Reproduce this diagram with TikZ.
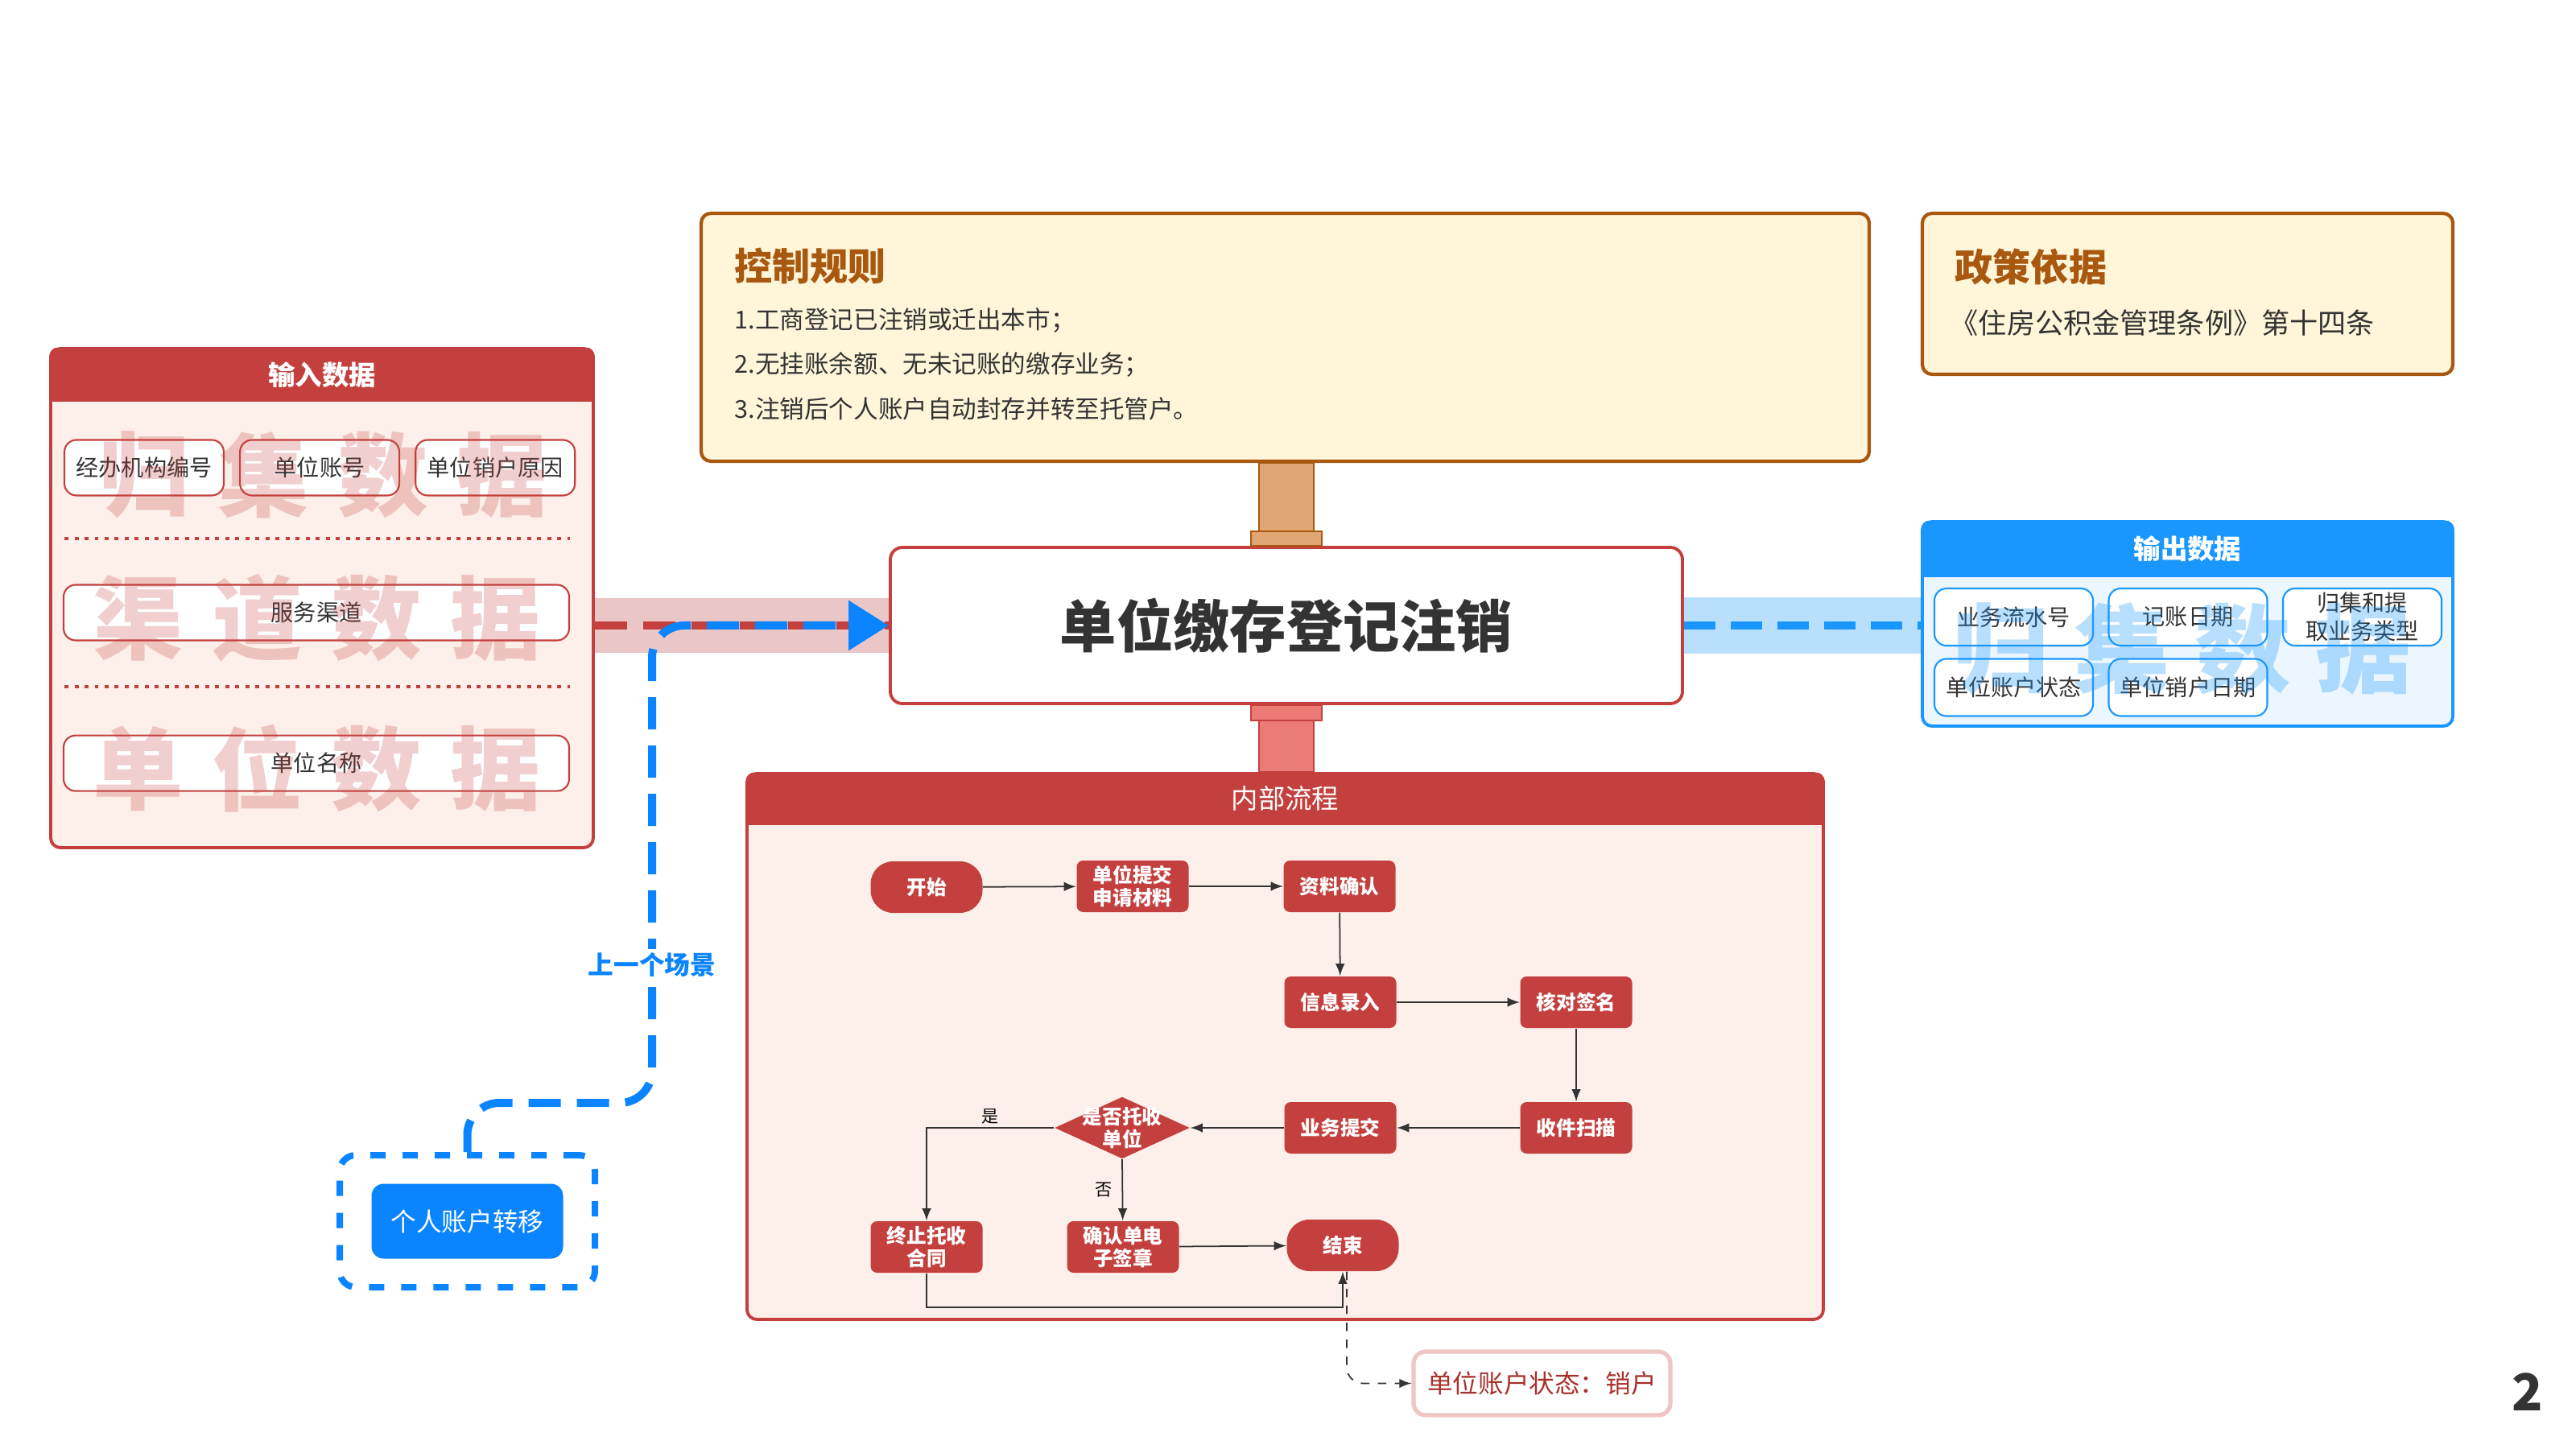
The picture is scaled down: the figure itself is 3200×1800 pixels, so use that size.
\documentclass[tikz,border=0pt]{standalone}
\usepackage{fontspec}
\setmainfont{Noto Sans CJK SC}
\usetikzlibrary{calc}
\usetikzlibrary{arrows}
\usetikzlibrary{arrows.meta}
\usetikzlibrary{positioning}
\usetikzlibrary{shapes.geometric}

\definecolor{hdred}{HTML}{C4403F}
\definecolor{bodypink}{HTML}{FDEFE9}
\definecolor{ruleedge}{HTML}{A9580F}
\definecolor{rulefill}{HTML}{FFF5D9}
\definecolor{tanstem}{HTML}{DFA674}
\definecolor{salmonstem}{HTML}{EC7A76}
\definecolor{outblue}{HTML}{1A97FF}
\definecolor{outfill}{HTML}{EBF6FF}
\definecolor{bandblue}{HTML}{B8E0FD}
\definecolor{bandred}{HTML}{EBC6C6}
\definecolor{btnblue}{HTML}{0A84FF}
\definecolor{txtgray}{HTML}{333333}
\definecolor{statered}{HTML}{A8302C}

\begin{document}
\begin{tikzpicture}[x=0.1mm, y=-0.1mm,
      panel/.style={draw=hdred, line width=1.1pt, fill=bodypink, rounded corners=1.2mm, inner sep=0pt},
      panel head/.style={fill=hdred, text=white, inner sep=0pt, font=\bfseries\fontsize{9.5}{11}\selectfont},
      item box/.style={draw=hdred, line width=0.6pt, fill=white, rounded corners=1.5mm, inner sep=0pt,
          minimum height=0.69cm, text=txtgray, align=center, font=\fontsize{8}{10}\selectfont},
      out item/.style={item box, draw=outblue, minimum width=1.97cm, minimum height=0.71cm},
      rule box/.style={draw=ruleedge, line width=1.2pt, fill=rulefill, rounded corners=1.2mm},
      rule title/.style={anchor=west, inner sep=0pt, text=ruleedge, font=\bfseries\fontsize{13.4}{16}\selectfont},
      rule text/.style={anchor=west, inner sep=0pt, text=txtgray, font=\fontsize{8.7}{10}\selectfont},
      step box/.style={fill=hdred, rounded corners=0.8mm, minimum width=1.39cm, minimum height=0.64cm,
          inner sep=0pt, text=white, align=center, font=\bfseries\fontsize{7}{8}\selectfont},
      end box/.style={step box, rounded corners=2.8mm},
      flow/.style={draw=txtgray, line width=0.5pt, -latex},
      red mark/.style={text=hdred, opacity=0.25, font=\bfseries\fontsize{32}{32}\selectfont},
      blue mark/.style={text=outblue, opacity=0.3, font=\bfseries\fontsize{34}{34}\selectfont},
      stem tan/.style={draw=ruleedge, line width=0.6pt, fill=tanstem},
      stem red/.style={draw=hdred, line width=0.6pt, fill=salmonstem},
    ]
    \useasboundingbox (0,0) rectangle (3200,1800);

    % input data
    \node[panel, minimum width=6.74cm, minimum height=6.2cm] (input) at (400,743) {};
    \begin{scope}
      \clip[rounded corners=1.2mm] (input.north west) rectangle (input.south east);
      \node[panel head, anchor=north, minimum width=6.8cm, minimum height=0.67cm] (input-head) at (input.north) {输入数据};
    \end{scope}
    \node[item box, minimum width=1.98cm] (in-1) at (179,581) {经办机构编号};
    \node[item box, minimum width=1.98cm, right=0.18cm of in-1] (in-2) {单位账号};
    \node[item box, minimum width=1.98cm, right=0.18cm of in-2] (in-3) {单位销户原因};
    \node[item box, minimum width=6.28cm] (in-4) at (393,761) {服务渠道};
    \node[item box, minimum width=6.28cm, below=1.16cm of in-4] (in-5) {单位名称};
    \draw[hdred, line width=0.9pt, dash pattern=on 0.5mm off 0.75mm] (80,669) -- (708,669);
    \draw[hdred, line width=0.9pt, dash pattern=on 0.5mm off 0.75mm] (80,853) -- (708,853);

    \foreach \ch [count=\i from 0] in {归,集,数,据}
      \node[red mark] (mark-a\i) at (180+148*\i,590) {\ch};
    \foreach \ch [count=\i from 0] in {渠,道,数,据}
      \node[red mark] (mark-b\i) at (172+148*\i,768) {\ch};
    \foreach \ch [count=\i from 0] in {单,位,数,据}
      \node[red mark] (mark-c\i) at (172+148*\i,955) {\ch};

    % main scene
    \node[draw=hdred, line width=1.1pt, fill=white, rounded corners=1.5mm, minimum width=9.84cm, minimum height=1.94cm,
          text=txtgray, font=\bfseries\fontsize{20}{24}\selectfont] (main) at (1598,777) {单位缴存登记注销};

    % control rules
    \node[rule box, minimum width=14.51cm, minimum height=3.08cm] (rules) at (1596.5,419) {};
    \node[rule title] (rules-title) at (912,330) {控制规则};
    \node[rule text] (rule-1) at (912,398) {1.工商登记已注销或迁出本市；};
    \node[rule text] (rule-2) at (912,453) {2.无挂账余额、无未记账的缴存业务；};
    \node[rule text] (rule-3) at (912,508) {3.注销后个人账户自动封存并转至托管户。};

    % policy
    \node[rule box, minimum width=6.59cm, minimum height=2.0cm] (policy) at (2717.5,365) {};
    \node[rule title] (policy-title) at (2428,331) {政策依据};
    \node[rule text, font=\fontsize{10}{12}\selectfont] (policy-text) at (2422,401) {《住房公积金管理条例》第十四条};

    % output data
    \node[panel, draw=outblue, fill=outfill, minimum width=6.59cm, minimum height=2.54cm] (output) at (2717.5,775) {};
    \begin{scope}
      \clip[rounded corners=1.2mm] (output.north west) rectangle (output.south east);
      \node[panel head, fill=outblue, anchor=north, minimum width=6.7cm, minimum height=0.7cm] (output-head) at (output.north) {输出数据};
    \end{scope}
    \node[out item] (out-1) at (2501.5,766.5) {业务流水号};
    \node[out item] (out-2) at (2718,766.5) {记账日期};
    \node[out item] (out-3) at (2934.5,766.5) {归集和提\\取业务类型};
    \node[out item] (out-4) at (2501.5,854) {单位账户状态};
    \node[out item] (out-5) at (2718,854) {单位销户日期};
    \foreach \ch [count=\i from 0] in {归,集,数,据}
      \node[blue mark] (mark-d\i) at (2486+150*\i,806) {\ch};

    % bands into and out of the scene
    \draw[bandred, line width=6.9mm] (input.east |- main.west) -- (main.west);
    \draw[hdred, line width=1mm, dash pattern=on 4mm off 2mm] (input.east |- main.west) -- (main.west);
    \draw[bandblue, line width=7mm] (main.east) -- (output.west |- main.east);
    \draw[outblue, line width=1mm, dash pattern=on 3.9mm off 1.9mm] (main.east) -- (output.west |- main.east);

    % internal flow
    \node[panel, minimum width=13.37cm, minimum height=6.78cm] (flow) at (1596.5,1300) {};
    \begin{scope}
      \clip[rounded corners=1.2mm] (flow.north west) rectangle (flow.south east);
      \node[panel head, font=\fontsize{9.5}{11}\selectfont, anchor=north, minimum width=13.5cm, minimum height=0.65cm] (flow-head) at (flow.north) {内部流程};
    \end{scope}

    % stems
    \draw[stem tan] ($(main.north |- rules.south)+(-34,0)$) rectangle ($(main.north)+(34,-18)$);
    \draw[stem tan] ($(main.north)+(-44,-18)$) rectangle ($(main.north)+(44,0)$);
    \draw[stem red] ($(main.south)+(-44,0)$) rectangle ($(main.south)+(44,19)$);
    \draw[stem red] ($(main.south)+(-34,19)$) rectangle ($(flow.north -| main.south)+(34,0)$);

    \node[end box]  (start)   at (1151,1102) {开始};
    \node[step box] (submit)  at (1407,1101) {单位提交\\申请材料};
    \node[step box] (confirm) at (1664,1101) {资料确认};
    \node[step box] (entry)   at (1665,1245) {信息录入};
    \node[step box] (sign)    at (1958,1245) {核对签名};
    \node[step box] (scan)    at (1958,1401) {收件扫描};
    \node[step box] (bizsub)  at (1665,1401) {业务提交};
    \node[diamond, fill=hdred, inner sep=0pt, minimum width=1.68cm, minimum height=0.77cm,
          label={[text=white, align=center, font=\bfseries\fontsize{7}{8}\selectfont]center:是否托收\\单位}] (decide) at (1394,1401) {};
    \node[step box] (stop)    at (1151,1549) {终止托收\\合同};
    \node[step box] (esign)   at (1395,1549) {确认单电\\子签章};
    \node[end box]  (end)     at (1668,1547) {结束};

    \draw[flow] (start) -- (submit);
    \draw[flow] (submit) -- (confirm);
    \draw[flow] (confirm) -- (entry);
    \draw[flow] (entry) -- (sign);
    \draw[flow] (sign) -- (scan);
    \draw[flow] (scan) -- (bizsub);
    \draw[flow] (bizsub) -- (decide);
    \draw[flow] (decide.west) -| node[pos=0.25, above, inner sep=1pt, font=\fontsize{6}{7}\selectfont]{是} (stop);
    \draw[flow] (decide.south) -- node[left, font=\fontsize{6}{7}\selectfont]{否} (esign);
    \draw[flow] (esign) -- (end);
    \draw[flow] (stop.south) -- ++(0,42) -| (end.south);

    % account state
    \node[draw=hdred!30, line width=1.5pt, fill=white, rounded corners=1.5mm, minimum width=3.19cm, minimum height=0.79cm,
          text=statered, font=\fontsize{9}{11}\selectfont] (state) at (1915.5,1718.5) {单位账户状态：销户};
    \draw[txtgray, line width=0.5pt, dashed, -latex, rounded corners=2mm] ([xshift=0.5mm]end.south) |- (state.west);

    % previous scene
    \node[draw=btnblue, line width=0.8mm, dash pattern=on 1.9mm off 2.1mm, rounded corners=2mm,
          minimum width=3.17cm, minimum height=1.64cm] (scene) at (580.5,1517) {};
    \node[fill=btnblue, rounded corners=1.5mm, minimum width=2.38cm, minimum height=0.93cm,
          text=white, font=\fontsize{9}{11}\selectfont] (scene-btn) at (scene.center) {个人账户转移};
    \coordinate (scene-bend) at (810,1370);
    \draw[btnblue, line width=1mm, dash pattern=on 4mm off 2mm, rounded corners=4mm,
          -{Triangle[length=5mm, width=6mm]}] (scene.north) |- (scene-bend) |- (main.west);
    \node[fill=white, inner sep=1pt, text=btnblue, font=\bfseries\fontsize{9}{11}\selectfont] (scene-label) at (810,1198) {上一个场景};

    \node[text=txtgray, font=\bfseries\fontsize{18}{20}\selectfont] (page-no) at (3140,1729) {2};
\end{tikzpicture}
\end{document}
